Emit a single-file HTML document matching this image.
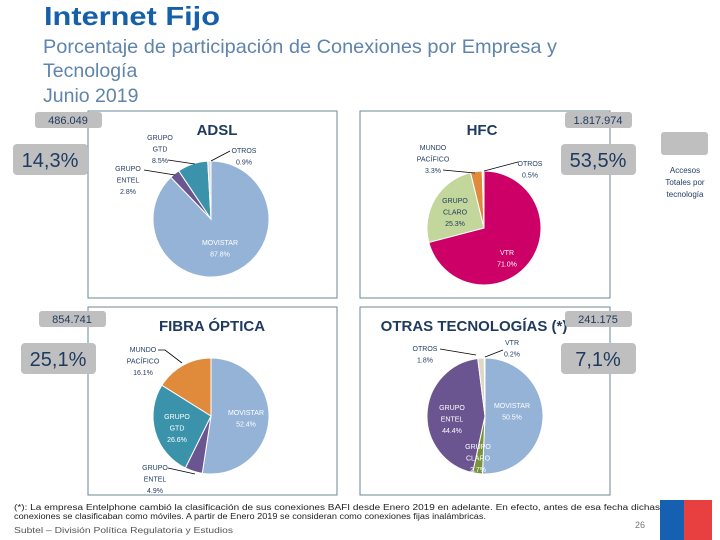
<!DOCTYPE html>
<html><head><meta charset="utf-8">
<style>
body{margin:0;width:720px;height:540px;background:#fff;overflow:hidden;font-family:"Liberation Sans",sans-serif;}
svg{position:absolute;left:0;top:0}
</style></head>
<body>
<svg id="s" width="720" height="540" viewBox="0 0 720 540">
<text x="44" y="25" font-size="26" font-weight="bold" fill="#1560a8" textLength="176" lengthAdjust="spacingAndGlyphs">Internet Fijo</text>
<text x="43" y="53" font-size="19.5" fill="#5f84ad" textLength="514" lengthAdjust="spacingAndGlyphs">Porcentaje de participación de Conexiones por Empresa y</text>
<text x="43" y="77" font-size="19.5" fill="#5f84ad">Tecnología</text>
<text x="43" y="102" font-size="19.5" fill="#5f84ad">Junio 2019</text>

<rect x="88" y="111" width="249" height="187" fill="#fff" stroke="#6f8797"/>
<rect x="360" y="111" width="250" height="187" fill="#fff" stroke="#6f8797"/>
<rect x="88" y="307" width="249" height="188" fill="#fff" stroke="#6f8797"/>
<rect x="360" y="307" width="250" height="188" fill="#fff" stroke="#6f8797"/>

<text x="217" y="135" font-size="15" font-weight="bold" fill="#1f3a5f" text-anchor="middle">ADSL</text>
<text x="482" y="135" font-size="15" font-weight="bold" fill="#1f3a5f" text-anchor="middle">HFC</text>
<text x="212" y="331" font-size="15" font-weight="bold" fill="#1f3a5f" text-anchor="middle">FIBRA ÓPTICA</text>
<text x="474" y="331" font-size="15" font-weight="bold" fill="#1f3a5f" text-anchor="middle">OTRAS TECNOLOGÍAS (*)</text>

<g><rect x="35" y="112" width="67" height="16" rx="3" fill="#bfbfbf"/><text x="68" y="124" font-size="11" fill="#1f3a5f" text-anchor="middle">486.049</text></g>
<g><rect x="13" y="144" width="75" height="31" rx="4" fill="#bfbfbf"/><text x="50" y="167" font-size="20" fill="#1f3a5f" text-anchor="middle">14,3%</text></g>
<g><rect x="565" y="112" width="67" height="16" rx="3" fill="#bfbfbf"/><text x="598" y="124" font-size="11" fill="#1f3a5f" text-anchor="middle">1.817.974</text></g>
<g><rect x="561" y="144" width="75" height="31" rx="4" fill="#bfbfbf"/><text x="598" y="167" font-size="20" fill="#1f3a5f" text-anchor="middle">53,5%</text></g>
<g><rect x="39" y="311" width="67" height="16" rx="3" fill="#bfbfbf"/><text x="72" y="323" font-size="11" fill="#1f3a5f" text-anchor="middle">854.741</text></g>
<g><rect x="21" y="343" width="75" height="31" rx="4" fill="#bfbfbf"/><text x="58" y="366" font-size="20" fill="#1f3a5f" text-anchor="middle">25,1%</text></g>
<g><rect x="565" y="311" width="67" height="16" rx="3" fill="#bfbfbf"/><text x="598" y="323" font-size="11" fill="#1f3a5f" text-anchor="middle">241.175</text></g>
<g><rect x="561" y="343" width="75" height="31" rx="4" fill="#bfbfbf"/><text x="598" y="366" font-size="20" fill="#1f3a5f" text-anchor="middle">7,1%</text></g>

<g><rect x="661" y="132" width="47" height="23" rx="3" fill="#bfbfbf"/>
<text font-size="8" fill="#1f3a5f" text-anchor="middle"><tspan x="685" y="173">Accesos</tspan><tspan x="685" y="185">Totales por</tspan><tspan x="685" y="197">tecnología</tspan></text></g>

<g id="pies"></g>
<g id="labels" font-size="7" text-anchor="middle" fill="#1f3a5f" stroke="none"></g>

<text font-size="8" fill="#222"><tspan x="14" y="510" textLength="646" lengthAdjust="spacingAndGlyphs">(*): La empresa Entelphone cambió la clasificación de sus conexiones BAFI desde Enero 2019 en adelante. En efecto, antes de esa fecha dichas</tspan><tspan x="14" y="519" textLength="472" lengthAdjust="spacingAndGlyphs">conexiones se clasificaban como móviles. A partir de Enero 2019 se consideran como conexiones fijas inalámbricas.</tspan></text>
<text x="14" y="533" font-size="8" fill="#555" textLength="219" lengthAdjust="spacingAndGlyphs">Subtel – División Política Regulatoria y Estudios</text>
<text x="635" y="528" font-size="9" fill="#777">26</text>
<g><rect x="660" y="500" width="24" height="40" fill="#1560b0"/><rect x="684" y="500" width="28" height="40" fill="#e84040"/></g>
</svg>
<script>
const adslCats=["MOVISTAR","GRUPO ENTEL","GRUPO GTD","OTROS"];
const adslVals=[87.8,2.8,8.5,0.9];
const hfcCats=["VTR","GRUPO CLARO","MUNDO PACÍFICO","OTROS"];
const hfcVals=[71.0,25.3,3.3,0.5];
const fibraCats=["MOVISTAR","GRUPO ENTEL","GRUPO GTD","MUNDO PACÍFICO"];
const fibraVals=[52.4,4.9,26.6,16.1];
const otrasCats=["MOVISTAR","GRUPO CLARO","GRUPO ENTEL","OTROS","VTR"];
const otrasVals=[50.5,2.7,44.4,1.8,0.2];

const NS="http://www.w3.org/2000/svg";
const colorMap={"MOVISTAR":"#95b3d7","GRUPO ENTEL":"#6a5590","GRUPO GTD":"#3a93ab","OTROS":"#dddddd","VTR":"#cc0066","GRUPO CLARO":"#c3d69b","MUNDO PACÍFICO":"#e08a3c"};
function pie(cx,cy,r,cats,vals,prefix,override){
  const g=document.getElementById('pies');
  const tot=vals.reduce((a,b)=>a+b,0);
  let a0=0;
  vals.forEach((v,i)=>{
    const a1=a0+v/tot*2*Math.PI;
    const x0=cx+r*Math.sin(a0),y0=cy-r*Math.cos(a0),x1=cx+r*Math.sin(a1),y1=cy-r*Math.cos(a1);
    const p=document.createElementNS(NS,'path');
    p.setAttribute('d',`M${cx},${cy}L${x0},${y0}A${r},${r} 0 ${a1-a0>Math.PI?1:0} 1 ${x1},${y1}Z`);
    p.setAttribute('fill',(override&&override[cats[i]])||colorMap[cats[i]]);
    p.setAttribute('stroke','#fff');p.setAttribute('stroke-width','1');
    
    
    g.appendChild(p);
    a0=a1;
  });
}
pie(211,219,58,adslCats,adslVals,'adsl');
pie(484,228,57,hfcCats,hfcVals,'hfc');
pie(211,416,58,fibraCats,fibraVals,'fibra');
pie(485,416,58,otrasCats,otrasVals,'otras',{"GRUPO CLARO":"#77933c","OTROS":"#ddd9c4"});

function lab(lines,x,y,fill,name){
  const L=document.getElementById('labels');
  const t=document.createElementNS(NS,'text');
  t.setAttribute('fill',fill||'#1f3a5f');
  
  
  lines.forEach((s,i)=>{const ts=document.createElementNS(NS,'tspan');ts.setAttribute('x',x);ts.setAttribute('y',y+i*11.5);ts.textContent=s;t.appendChild(ts);});
  L.appendChild(t);
}
function line(pts){
  const L=document.getElementById('labels');
  const p=document.createElementNS(NS,'polyline');
  p.setAttribute('points',pts);p.setAttribute('fill','none');p.setAttribute('stroke','#000');p.setAttribute('stroke-width','0.8');
  
  
  L.appendChild(p);
}
const pct=v=>v.toFixed(1)+'%';
lab(["MOVISTAR",pct(adslVals[0])],220,245,'#fff','adsl-label-movistar');
lab(["GRUPO","GTD",pct(adslVals[2])],160,140,null,'adsl-label-gtd');
lab(["GRUPO","ENTEL",pct(adslVals[1])],128,171,null,'adsl-label-entel');
lab(["OTROS",pct(adslVals[3])],244,153,null,'adsl-label-otros');
line("168,160 195,164");line("144,170 175,175");line("230,151 211,161");
lab(["MUNDO","PACÍFICO",pct(hfcVals[2])],433,150,null,'hfc-label-mp');
lab(["OTROS",pct(hfcVals[3])],530,166,null,'hfc-label-otros');
lab(["GRUPO","CLARO",pct(hfcVals[1])],455,203,null,'hfc-label-claro');
lab(["VTR",pct(hfcVals[0])],507,255,'#fff','hfc-label-vtr');
line("443,170 475,173");line("518,162 484,171");
lab(["MUNDO","PACÍFICO",pct(fibraVals[3])],143,352,null,'fibra-label-mp');
lab(["GRUPO","GTD",pct(fibraVals[2])],177,419,'#fff','fibra-label-gtd');
lab(["MOVISTAR",pct(fibraVals[0])],246,415,'#fff','fibra-label-movistar');
lab(["GRUPO","ENTEL",pct(fibraVals[1])],155,470,null,'fibra-label-entel');
line("158,350 165,350 182,363");line("168,468 195,474");
lab(["OTROS",pct(otrasVals[3])],425,351,null,'otras-label-otros');
lab(["VTR",pct(otrasVals[4])],512,345,null,'otras-label-vtr');
lab(["GRUPO","ENTEL",pct(otrasVals[2])],452,410,'#fff','otras-label-entel');
lab(["MOVISTAR",pct(otrasVals[0])],512,408,'#fff','otras-label-movistar');
lab(["GRUPO","CLARO",pct(otrasVals[1])],478,449,'#fff','otras-label-claro');
line("440,349 476,355");line("503,350 485,357");
</script>
</body></html>
